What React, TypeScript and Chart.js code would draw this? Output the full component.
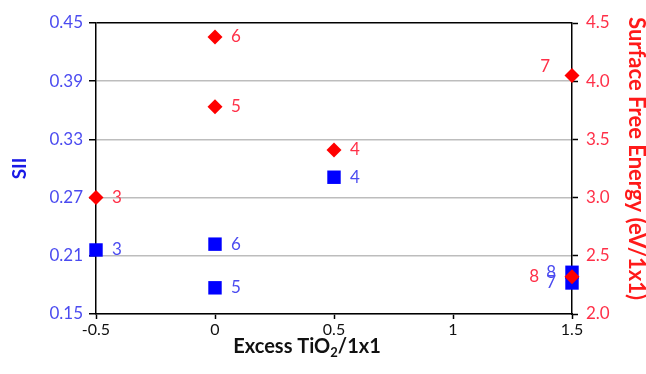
import React, { useEffect, useRef } from "react";
import { Chart, registerables } from "chart.js";

Chart.register(...registerables);

// Excess TiO2 per 1x1 cell for each structure
const SII_X = [-0.5, 0, 0, 0.5, 1.5, 1.5];
const SII_VALUES = [0.216, 0.222, 0.177, 0.291, 0.193, 0.182];
const SII_NAMES = ["3", "6", "5", "4", "8", "7"];
const SII_LABEL_SIDE = ["right", "right", "right", "right", "left", "left"];

const SFE_X = [-0.5, 0, 0, 0.5, 1.5, 1.5];
const SFE_VALUES = [3.0, 4.38, 3.78, 3.41, 4.05, 2.32];
const SFE_NAMES = ["3", "6", "5", "4", "7", "8"];
const SFE_LABEL_SIDE = ["right", "right", "right", "right", "aboveLeft", "leftFar"];

const X_TICKS = [-0.5, 0, 0.5, 1, 1.5];
const SII_TICKS = [0.15, 0.21, 0.27, 0.33, 0.39, 0.45];
const SFE_TICKS = [2.0, 2.5, 3.0, 3.5, 4.0, 4.5];

const FONT = "Lato, 'Open Sans', sans-serif";
const BLUE = "#0000ff";
const RED = "#ff0000";
const BLUE_TEXT = "#4b4bf0";
const RED_TEXT = "#ff3048";

const LABEL_OFFSETS: Record<string, [number, number, CanvasTextAlign]> = {
  right: [16, 0, "left"],
  left: [-16, 0, "right"],
  leftFar: [-33, 0, "right"],
  aboveLeft: [-22, -9, "right"],
};

const pointLabels = {
  id: "pointLabels",
  afterDatasetsDraw(chart: any) {
    const ctx = chart.ctx;
    ctx.save();
    ctx.font = `17px ${FONT}`;
    ctx.textBaseline = "middle";
    chart.data.datasets.forEach((ds: any, di: number) => {
      const meta = chart.getDatasetMeta(di);
      meta.data.forEach((pt: any, i: number) => {
        const [dx, dy, align] = LABEL_OFFSETS[ds.labelSides[i]];
        ctx.fillStyle = ds.labelColor;
        ctx.textAlign = align;
        ctx.fillText(ds.names[i], pt.x + dx, pt.y + dy);
      });
    });
    ctx.restore();
  },
};

const axisTitles = {
  id: "axisTitles",
  afterDraw(chart: any) {
    const ctx = chart.ctx;
    const area = chart.chartArea;
    const midY = (area.top + area.bottom) / 2;
    ctx.save();
    ctx.textAlign = "center";
    ctx.textBaseline = "middle";

    ctx.font = `bold 19px ${FONT}`;
    ctx.fillStyle = "#1a1ae6";
    ctx.save();
    ctx.translate(20, midY);
    ctx.rotate(-Math.PI / 2);
    ctx.fillText("SII", 0, 0);
    ctx.restore();

    ctx.font = `bold 22px ${FONT}`;
    ctx.fillStyle = "#ff1a1a";
    ctx.save();
    ctx.translate(chart.width - 10, midY - 10);
    ctx.rotate(Math.PI / 2);
    ctx.fillText("Surface Free Energy (eV/1x1)", 0, 0);
    ctx.restore();

    // x title with a subscript 2
    const big = `bold 20px ${FONT}`;
    const small = `bold 13px ${FONT}`;
    const a = "Excess TiO";
    const b = "2";
    const c = "/1x1";
    ctx.font = big;
    const wa = ctx.measureText(a).width;
    const wc = ctx.measureText(c).width;
    ctx.font = small;
    const wb = ctx.measureText(b).width;
    const total = wa + wb + wc;
    const cx = (area.left + area.right) / 2 - 27;
    let x = cx - total / 2;
    const y = 346;
    ctx.fillStyle = "#111";
    ctx.textAlign = "left";
    ctx.textBaseline = "alphabetic";
    ctx.font = big;
    ctx.fillText(a, x, y + 7);
    x += wa;
    ctx.font = small;
    ctx.fillText(b, x, y + 11);
    x += wb;
    ctx.font = big;
    ctx.fillText(c, x, y + 7);
    ctx.restore();
  },
};

export default function App() {
  const ref = useRef<HTMLCanvasElement | null>(null);

  useEffect(() => {
    if (!ref.current) return;
    const chart = new Chart(ref.current, {
      type: "scatter",
      data: {
        datasets: [
          {
            label: "Surface Free Energy",
            data: SFE_X.map((x, i) => ({ x, y: SFE_VALUES[i] })),
            yAxisID: "y1",
            pointStyle: "rectRot",
            pointRadius: 7.5,
            pointHoverRadius: 7.5,
            backgroundColor: RED,
            borderColor: RED,
            borderWidth: 0,
            clip: false,
            order: 0,
            names: SFE_NAMES,
            labelSides: SFE_LABEL_SIDE,
            labelColor: RED_TEXT,
          } as any,
          {
            label: "SII",
            data: SII_X.map((x, i) => ({ x, y: SII_VALUES[i] })),
            yAxisID: "y",
            pointStyle: "rect",
            pointRadius: 9.5,
            pointHoverRadius: 9.5,
            backgroundColor: BLUE,
            borderColor: BLUE,
            borderWidth: 0,
            clip: false,
            order: 1,
            names: SII_NAMES,
            labelSides: SII_LABEL_SIDE,
            labelColor: BLUE_TEXT,
          } as any,
        ],
      },
      options: {
        responsive: false,
        animation: false,
        devicePixelRatio: 1,
        layout: { autoPadding: false, padding: { top: 23 } },
        plugins: {
          legend: { display: false },
          tooltip: { enabled: false },
        },
        scales: {
          x: {
            type: "linear",
            min: -0.5,
            max: 1.5,
            afterBuildTicks: (s: any) => {
              s.ticks = X_TICKS.map((v) => ({ value: v }));
            },
            afterFit: (s: any) => {
              s.height = 60;
            },
            ticks: {
              color: "#111",
              font: { family: FONT, size: 16 },
              padding: 1,
              maxRotation: 0,
              callback: (v: any) => String(v),
            },
            grid: {
              drawOnChartArea: false,
              tickLength: 5,
              tickColor: "#000",
              tickWidth: 1.5,
            },
            border: { color: "#000", width: 1.5 },
          },
          y: {
            position: "left",
            min: 0.15,
            max: 0.45,
            afterBuildTicks: (s: any) => {
              s.ticks = SII_TICKS.map((v) => ({ value: v }));
            },
            afterFit: (s: any) => {
              s.width = 96;
            },
            ticks: {
              color: BLUE_TEXT,
              font: { family: FONT, size: 17 },
              padding: 6,
              callback: (v: any) => Number(v).toFixed(2),
            },
            grid: {
              color: (c: any) =>
                c.tick && c.tick.value === 0.45 ? "#000" : "#bdbdbd",
              lineWidth: 1.5,
              tickLength: 7,
              tickColor: "#000",
              tickWidth: 1.5,
            },
            border: { color: "#000", width: 1.5 },
          },
          y1: {
            position: "right",
            min: 2.0,
            max: 4.5,
            afterBuildTicks: (s: any) => {
              s.ticks = SFE_TICKS.map((v) => ({ value: v }));
            },
            afterFit: (s: any) => {
              s.width = 74;
            },
            ticks: {
              color: RED_TEXT,
              font: { family: FONT, size: 17 },
              padding: 8,
              callback: (v: any) => Number(v).toFixed(1),
            },
            grid: {
              drawOnChartArea: false,
              tickLength: 6,
              tickColor: "#000",
              tickWidth: 1.5,
            },
            border: { color: "#000", width: 1.5 },
          },
        },
      } as any,
      plugins: [pointLabels, axisTitles],
    });
    return () => chart.destroy();
  }, []);

  return (
    <div style={{ position: "absolute", left: 0, top: 0, width: 646, height: 374, background: "#fff" }}>
      <canvas ref={ref} width={646} height={374} />
    </div>
  );
}
